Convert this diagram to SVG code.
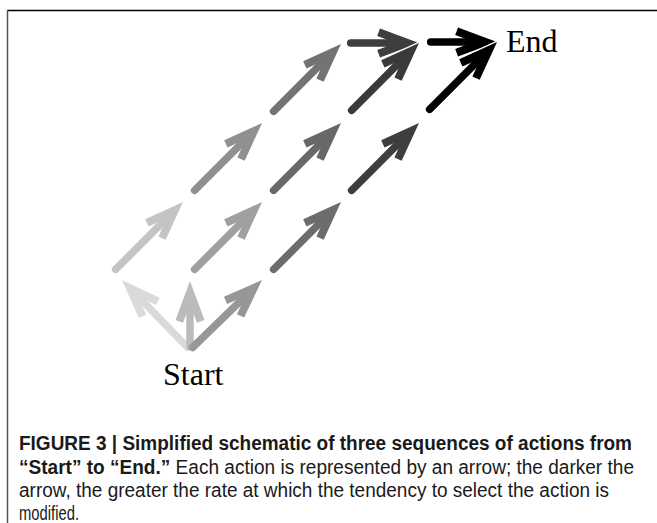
<svg xmlns="http://www.w3.org/2000/svg" width="657" height="523" viewBox="0 0 657 523">
<style>
.ar line{stroke-width:7.5;stroke-linecap:round}
.ar .halo{fill:none;stroke:#fff;stroke-width:2.5}
.ar .hf{stroke:none}
.lbl{font-family:"Liberation Serif","Times New Roman",serif;font-size:32px;fill:#000}
.cap{font-family:"Liberation Sans Narrow","Liberation Sans",Arial,sans-serif;font-size:19.5px;fill:#1a1a1a}
.b{font-weight:bold}
.frame{fill:none;stroke-width:1.5}
</style>
<defs>
<polygon id="hd" points="0,0 -39,-14.5 -41.8,-7 -23,0 -41.8,7 -39,14.5"/>
</defs>
<rect width="657" height="523" fill="#fff"/>
<line class="frame" x1="7" y1="10.5" x2="657" y2="10.5" stroke="#000"/>
<line class="frame" x1="7.5" y1="10" x2="7.5" y2="523" stroke="#555"/>

<g id="connectors">
<g id="a-ul" class="ar" transform="translate(122,280) rotate(-134.2)" stroke="#dadada" fill="#dadada"><use href="#hd" class="halo"/><line x1="-93.8" y1="0" x2="-24" y2="0"/><use href="#hd" class="hf"/></g>
<g id="a-up" class="ar" transform="translate(190,281) rotate(-90)" stroke="#bbbbbb" fill="#bbbbbb"><use href="#hd" class="halo"/><line x1="-65.5" y1="0" x2="-24" y2="0"/><use href="#hd" class="hf"/></g>
<g id="a-ur" class="ar" transform="translate(262,280) rotate(-44.2)" stroke="#979797" fill="#979797"><use href="#hd" class="halo"/><line x1="-96.8" y1="0" x2="-24" y2="0"/><use href="#hd" class="hf"/></g>

<g id="a-r1a" class="ar" transform="translate(183,202) rotate(-45)" stroke="#c4c4c4" fill="#c4c4c4"><use href="#hd" class="halo"/><line x1="-95.3" y1="0" x2="-24" y2="0"/><use href="#hd" class="hf"/></g>
<g id="a-r1b" class="ar" transform="translate(262,202) rotate(-45)" stroke="#a0a0a0" fill="#a0a0a0"><use href="#hd" class="halo"/><line x1="-95.3" y1="0" x2="-24" y2="0"/><use href="#hd" class="hf"/></g>
<g id="a-r1c" class="ar" transform="translate(341,202) rotate(-45)" stroke="#6c6c6c" fill="#6c6c6c"><use href="#hd" class="halo"/><line x1="-95.3" y1="0" x2="-24" y2="0"/><use href="#hd" class="hf"/></g>

<g id="a-r2a" class="ar" transform="translate(262,123) rotate(-45)" stroke="#909090" fill="#909090"><use href="#hd" class="halo"/><line x1="-95.3" y1="0" x2="-24" y2="0"/><use href="#hd" class="hf"/></g>
<g id="a-r2b" class="ar" transform="translate(341,123) rotate(-45)" stroke="#686868" fill="#686868"><use href="#hd" class="halo"/><line x1="-95.3" y1="0" x2="-24" y2="0"/><use href="#hd" class="hf"/></g>
<g id="a-r2c" class="ar" transform="translate(419,123) rotate(-45)" stroke="#3e3e3e" fill="#3e3e3e"><use href="#hd" class="halo"/><line x1="-95.3" y1="0" x2="-24" y2="0"/><use href="#hd" class="hf"/></g>

<g id="a-h1" class="ar" transform="translate(419,43)" stroke="#3e3e3e" fill="#3e3e3e"><use href="#hd" class="halo"/><line x1="-68.3" y1="0" x2="-24" y2="0"/><use href="#hd" class="hf"/></g>
<g id="a-h2" class="ar" transform="translate(497,42)" stroke="#000" fill="#000"><use href="#hd" class="halo"/><line x1="-66.3" y1="0" x2="-24" y2="0"/><use href="#hd" class="hf"/></g>

<g id="a-r3a" class="ar" transform="translate(341,44) rotate(-45)" stroke="#737373" fill="#737373"><use href="#hd" class="halo"/><line x1="-95.3" y1="0" x2="-24" y2="0"/><use href="#hd" class="hf"/></g>
<g id="a-r3b" class="ar" transform="translate(419,43) rotate(-45)" stroke="#3a3a3a" fill="#3a3a3a"><use href="#hd" class="halo"/><line x1="-95.3" y1="0" x2="-24" y2="0"/><use href="#hd" class="hf"/></g>
<g id="a-r3c" class="ar" transform="translate(497,42) rotate(-45)" stroke="#000" fill="#000"><use href="#hd" class="halo"/><line x1="-95.3" y1="0" x2="-24" y2="0"/><use href="#hd" class="hf"/></g>
</g>

<g id="node-end"><text class="lbl" x="506" y="52">End</text></g>
<g id="node-start"><text class="lbl" x="163" y="385">Start</text></g>

<g id="caption">
<text class="cap b" x="19" y="450" textLength="613" lengthAdjust="spacingAndGlyphs">FIGURE 3 | Simplified schematic of three sequences of actions from</text>
<text class="cap" x="19" y="473.5" textLength="615" lengthAdjust="spacingAndGlyphs"><tspan class="b">“Start” to “End.”</tspan> Each action is represented by an arrow; the darker the</text>
<text class="cap" x="19" y="497" textLength="590" lengthAdjust="spacingAndGlyphs">arrow, the greater the rate at which the tendency to select the action is</text>
<text class="cap" x="19" y="520" textLength="60" lengthAdjust="spacingAndGlyphs">modified.</text>
</g>
</svg>
